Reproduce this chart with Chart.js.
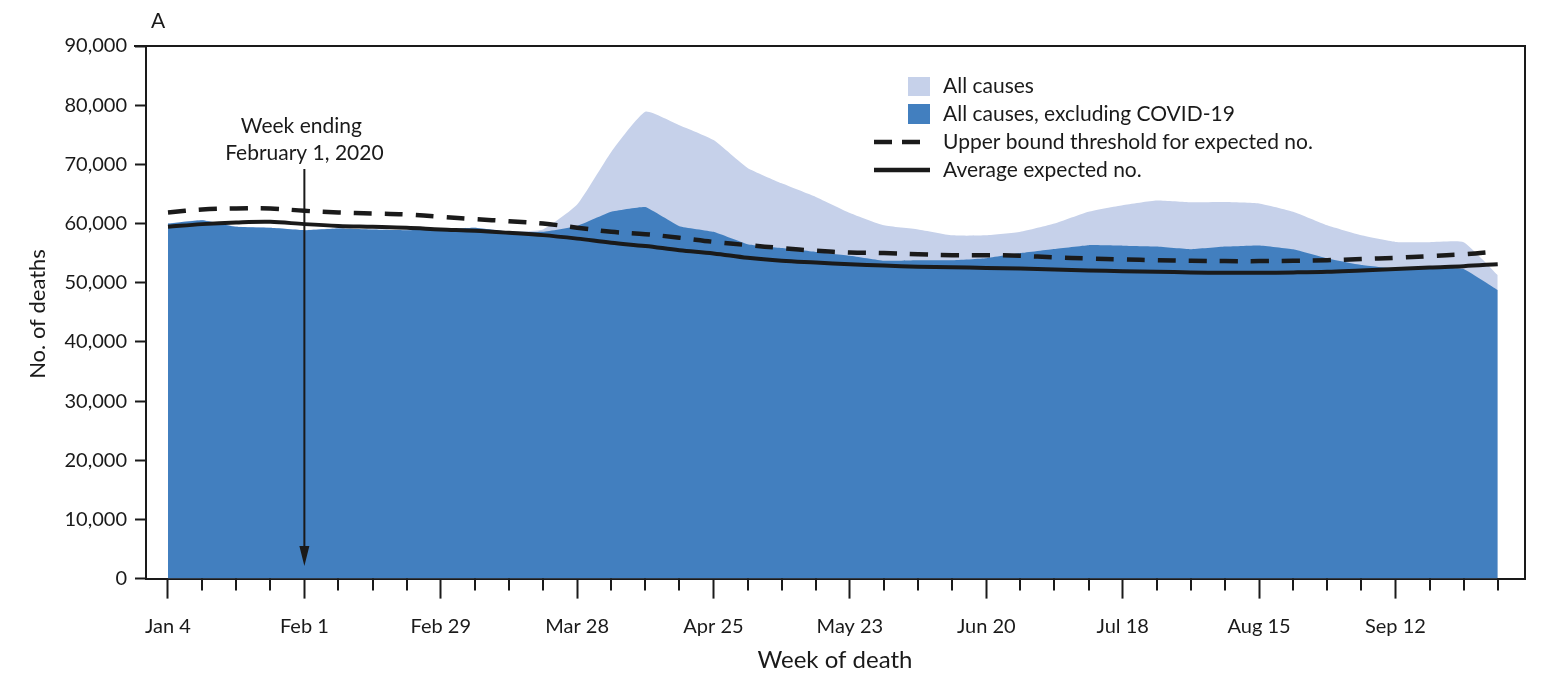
<!DOCTYPE html>
<html>
<head>
<meta charset="utf-8">
<script src="https://cdn.jsdelivr.net/npm/chart.js@4/dist/chart.umd.min.js"></script>
<style>
  body { margin: 0; background: #fff; }
  canvas { display: block; }
</style>
</head>
<body>
<canvas id="myChart" width="1550" height="674"></canvas>
<script>
const $ = document.querySelector.bind(document);

// week ending dates, 2020
const weeks = [
  `Jan 4`, `Jan 11`, `Jan 18`, `Jan 25`, `Feb 1`, `Feb 8`, `Feb 15`, `Feb 22`, `Feb 29`,
  `Mar 7`, `Mar 14`, `Mar 21`, `Mar 28`, `Apr 4`, `Apr 11`, `Apr 18`, `Apr 25`,
  `May 2`, `May 9`, `May 16`, `May 23`, `May 30`, `Jun 6`, `Jun 13`, `Jun 20`, `Jun 27`,
  `Jul 4`, `Jul 11`, `Jul 18`, `Jul 25`, `Aug 1`, `Aug 8`, `Aug 15`, `Aug 22`, `Aug 29`,
  `Sep 5`, `Sep 12`, `Sep 19`, `Sep 26`, `Oct 3`
];

const allCauses = [
  60000, 60600, 59500, 59300, 58900, 59200, 59000, 58900, 59000, 59300,
  58700, 59000, 63200, 72100, 78900, 76600, 74100, 69400, 66800, 64500,
  61800, 59700, 59000, 58000, 58000, 58600, 60000, 62000, 63100, 63900,
  63600, 63650, 63400, 62000, 59700, 58000, 56900, 56850, 56850, 51300
];

const excludingCovid = [
  60000, 60570, 59450, 59280, 58880, 59170, 59000, 58880, 59000, 59280,
  58600, 58600, 59600, 62000, 62800, 59550, 58600, 56500, 55850, 55200,
  54550, 53700, 53800, 53800, 54150, 55000, 55700, 56350, 56250, 56100,
  55650, 56100, 56300, 55650, 54100, 53000, 52400, 52600, 52300, 48750
];

const upperBound = [
  61870, 62380, 62550, 62550, 62150, 61870, 61700, 61530, 61130, 60740,
  60400, 60000, 59300, 58600, 58200, 57600, 56900, 56350, 55850, 55400,
  55100, 55000, 54800, 54650, 54650, 54550, 54270, 54100, 53930, 53800,
  53700, 53650, 53650, 53700, 53800, 54000, 54200, 54500, 54800, 55300
];

const averageExpected = [
  59450, 59900, 60180, 60290, 59900, 59600, 59450, 59280, 59000, 58770,
  58430, 58040, 57450, 56750, 56200, 55500, 54950, 54200, 53700, 53400,
  53100, 52900, 52700, 52600, 52500, 52400, 52250, 52080, 51950, 51850,
  51740, 51680, 51680, 51740, 51850, 52080, 52300, 52580, 52800, 53140
];

const yTicks = [0, 10000, 20000, 30000, 40000, 50000, 60000, 70000, 80000, 90000];

const FONT = `Lato, "Open Sans", sans-serif`;
const INK = `#1a1a1a`;
const LIGHT = `#c6d1ea`;
const BLUE = `#427fbf`;

const toPoints = (arr) => arr.map((v, i) => ({ x: i, y: v }));

// frame, minor ticks, titles, legend, arrow
const decorations = {
  id: `decorations`,
  afterDraw(chart) {
    const ctx = chart.ctx;
    const area = chart.chartArea;
    const xs = chart.scales.x;
    ctx.save();
    ctx.strokeStyle = INK;
    ctx.fillStyle = INK;

    // top and right border
    ctx.lineWidth = 2;
    ctx.beginPath();
    ctx.moveTo(area.left - 12, area.top);
    ctx.lineTo(area.right, area.top);
    ctx.lineTo(area.right, area.bottom);
    ctx.stroke();

    // short weekly ticks
    weeks.forEach((w, i) => {
      if (i % 4 === 0) return;
      const px = Math.round(xs.getPixelForValue(i));
      ctx.beginPath();
      ctx.moveTo(px, area.bottom);
      ctx.lineTo(px, area.bottom + 12);
      ctx.stroke();
    });

    // panel letter
    ctx.font = `21px ${FONT}`;
    ctx.textAlign = `left`;
    ctx.textBaseline = `middle`;
    ctx.fillText(`A`, 151, 21);

    // axis titles
    ctx.font = `24px ${FONT}`;
    ctx.textAlign = `center`;
    ctx.fillText(`Week of death`, 835, 660);
    ctx.save();
    ctx.translate(38, 314);
    ctx.rotate(-Math.PI / 2);
    ctx.font = `22px ${FONT}`;
    ctx.fillText(`No. of deaths`, 0, 0);
    ctx.restore();

    // annotation
    const ax = xs.getPixelForValue(4);
    ctx.font = `21px ${FONT}`;
    ctx.fillText(`Week ending`, ax - 3, 126);
    ctx.fillText(`February 1, 2020`, ax, 153);
    ctx.lineWidth = 2;
    ctx.beginPath();
    ctx.moveTo(ax, 169);
    ctx.lineTo(ax, 550);
    ctx.stroke();
    ctx.beginPath();
    ctx.moveTo(ax - 5, 546);
    ctx.lineTo(ax + 5, 546);
    ctx.lineTo(ax, 566);
    ctx.closePath();
    ctx.fill();

    // legend
    ctx.font = `21px ${FONT}`;
    ctx.textAlign = `left`;
    const lx = 943;
    ctx.fillStyle = LIGHT;
    ctx.fillRect(908, 77, 22, 19);
    ctx.fillStyle = BLUE;
    ctx.fillRect(908, 104, 22, 20);
    ctx.strokeStyle = INK;
    ctx.lineWidth = 4.5;
    ctx.setLineDash([18, 10]);
    ctx.beginPath();
    ctx.moveTo(874, 142);
    ctx.lineTo(930, 142);
    ctx.stroke();
    ctx.setLineDash([]);
    ctx.beginPath();
    ctx.moveTo(874, 170);
    ctx.lineTo(930, 170);
    ctx.stroke();
    ctx.fillStyle = INK;
    ctx.fillText(`All causes`, lx, 86);
    ctx.fillText(`All causes, excluding COVID-19`, lx, 114);
    ctx.fillText(`Upper bound threshold for expected no.`, lx, 142);
    ctx.fillText(`Average expected no.`, lx, 170);

    ctx.restore();
  }
};

const chart = new Chart($(`#myChart`).getContext(`2d`), {
  type: `line`,
  data: {
    datasets: [
      {
        label: `Average expected no.`,
        data: toPoints(averageExpected),
        borderColor: INK,
        borderWidth: 4,
        tension: 0.35,
        pointRadius: 0,
        fill: false,
        order: 0,
      },
      {
        label: `Upper bound threshold for expected no.`,
        data: toPoints(upperBound),
        borderColor: INK,
        borderWidth: 4.5,
        borderDash: [18, 13],
        tension: 0.35,
        pointRadius: 0,
        fill: false,
        order: 1,
      },
      {
        label: `All causes, excluding COVID-19`,
        data: toPoints(excludingCovid),
        borderWidth: 0,
        borderColor: BLUE,
        backgroundColor: BLUE,
        pointRadius: 0,
        tension: 0.1,
        fill: `origin`,
        order: 2,
      },
      {
        label: `All causes`,
        data: toPoints(allCauses),
        borderWidth: 0,
        borderColor: LIGHT,
        backgroundColor: LIGHT,
        pointRadius: 0,
        tension: 0.15,
        fill: `origin`,
        order: 3,
      },
    ],
  },
  options: {
    responsive: false,
    animation: false,
    devicePixelRatio: 1,
    layout: { padding: { top: 46, right: 25, left: 0, bottom: 0 } },
    plugins: {
      legend: { display: false },
      tooltip: { enabled: false },
    },
    scales: {
      x: {
        type: `linear`,
        min: -0.645,
        max: 39.8,
        afterFit: (scale) => { scale.height = 95.4; },
        afterBuildTicks: (scale) => { scale.ticks = weeks.map((w, i) => ({ value: i })); },
        border: { display: true, color: INK, width: 2 },
        grid: {
          drawOnChartArea: false,
          tickLength: 20,
          tickWidth: 2,
          tickColor: (c) => (c.tick && c.tick.value % 4 === 0 ? INK : `rgba(0,0,0,0)`),
        },
        ticks: {
          autoSkip: false,
          maxRotation: 0,
          padding: 16,
          color: INK,
          font: { family: FONT, size: 20 },
          callback: (v) => (v % 4 === 0 ? weeks[v] : ``),
        },
      },
      y: {
        min: 0,
        max: 90000,
        afterFit: (scale) => { scale.width = 146; },
        afterBuildTicks: (scale) => { scale.ticks = yTicks.map((v) => ({ value: v })); },
        border: { display: true, color: INK, width: 2 },
        grid: {
          drawOnChartArea: false,
          tickLength: 11,
          tickWidth: 2,
          tickColor: INK,
        },
        ticks: {
          padding: 8,
          color: INK,
          font: { family: FONT, size: 20 },
          callback: (v) => v.toLocaleString(`en-US`),
        },
      },
    },
  },
  plugins: [decorations],
});
</script>
</body>
</html>
